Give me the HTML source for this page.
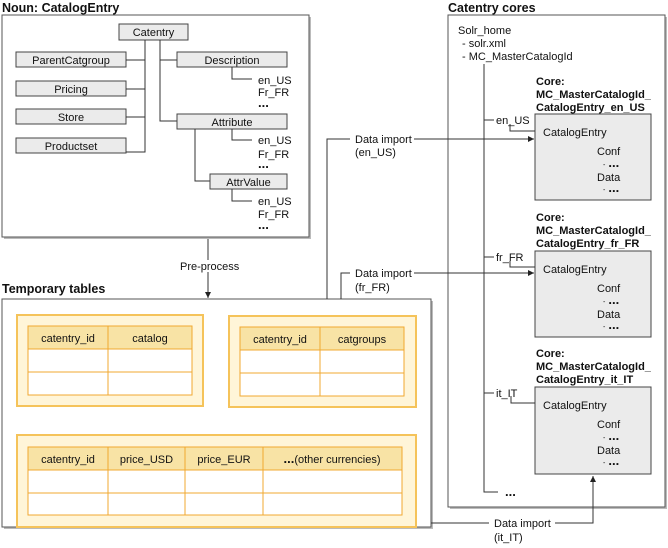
<!DOCTYPE html>
<html><head><meta charset="utf-8"><style>
html,body{margin:0;padding:0;background:#fff}
svg{display:block}
text{font-family:"Liberation Sans",Arial,sans-serif;font-size:11px;fill:#111}
.b{font-weight:bold}
.e{font-weight:bold;font-size:13px}
.t{font-weight:bold;font-size:12.5px}
.ln{stroke:#333;stroke-width:1;fill:none}
.bx{fill:#ebebeb;stroke:#444;stroke-width:1}
.pn{fill:#fff5d8;stroke:#f5c35a;stroke-width:2}
.th{fill:#f8e3a5;stroke:#f0a830;stroke-width:1}
.td{fill:#fff;stroke:#f0a830;stroke-width:1}
</style></head><body>
<svg width="668" height="548" viewBox="0 0 668 548" xmlns="http://www.w3.org/2000/svg">
<defs>
<marker id="ar" markerWidth="6" markerHeight="6" refX="6" refY="3" orient="auto"><path d="M0,0 L6,3 L0,6z" fill="#222"/></marker>
</defs>
<text x="2" y="12" class="t">Noun: CatalogEntry</text>
<rect x="4" y="17" width="307" height="222" fill="#bbb"/>
<rect x="2" y="15" width="307" height="222" fill="#fff" stroke="#555"/>
<g>
<rect x="119" y="24" width="69" height="16" class="bx"/><text x="153.5" y="36" text-anchor="middle">Catentry</text>
<rect x="16" y="52" width="110" height="15" class="bx"/><text x="71" y="64" text-anchor="middle">ParentCatgroup</text>
<rect x="16" y="81" width="110" height="15" class="bx"/><text x="71" y="93" text-anchor="middle">Pricing</text>
<rect x="16" y="109" width="110" height="15" class="bx"/><text x="71" y="121" text-anchor="middle">Store</text>
<rect x="16" y="138" width="110" height="15" class="bx"/><text x="71" y="150" text-anchor="middle">Productset</text>
<path class="ln" d="M145,40V152H126M126,60H145M126,89H145M126,117H145"/>
<path class="ln" d="M160,40V121H177M160,60H177"/>
<rect x="177" y="52" width="110" height="15" class="bx"/><text x="232" y="64" text-anchor="middle">Description</text>
<rect x="177" y="114" width="110" height="15" class="bx"/><text x="232" y="126" text-anchor="middle">Attribute</text>
<path class="ln" d="M195,129V181H210"/>
<rect x="210" y="174" width="77" height="15" class="bx"/><text x="248.5" y="186" text-anchor="middle">AttrValue</text>
<path class="ln" d="M232,67V79H252M232,129V140H252M232,189V201H252"/>
<text x="258" y="84">en_US</text><text x="258" y="96">Fr_FR</text><text x="258" y="107" class="e">...</text>
<text x="258" y="144">en_US</text><text x="258" y="158">Fr_FR</text><text x="258" y="168" class="e">...</text>
<text x="258" y="205">en_US</text><text x="258" y="218">Fr_FR</text><text x="258" y="229" class="e">...</text>
</g>
<path class="ln" d="M208,239V298" marker-end="url(#ar)"/>
<rect x="178" y="260" width="60" height="12" fill="#fff"/>
<text x="180" y="270">Pre-process</text>
<text x="2" y="293" class="t">Temporary tables</text>
<rect x="4" y="301" width="429" height="228" fill="#bbb"/>
<rect x="2" y="299" width="429" height="228" fill="#fff" stroke="#555"/>
<rect x="17" y="315" width="186" height="91" class="pn"/>
<rect x="28" y="326" width="80" height="23" class="th"/><rect x="108" y="326" width="84" height="23" class="th"/>
<rect x="28" y="349" width="80" height="23" class="td"/><rect x="108" y="349" width="84" height="23" class="td"/>
<rect x="28" y="372" width="80" height="23" class="td"/><rect x="108" y="372" width="84" height="23" class="td"/>
<text x="68" y="342" text-anchor="middle">catentry_id</text><text x="150" y="342" text-anchor="middle">catalog</text>
<rect x="229" y="316" width="187" height="91" class="pn"/>
<rect x="240" y="327" width="80" height="23" class="th"/><rect x="320" y="327" width="84" height="23" class="th"/>
<rect x="240" y="350" width="80" height="23" class="td"/><rect x="320" y="350" width="84" height="23" class="td"/>
<rect x="240" y="373" width="80" height="23" class="td"/><rect x="320" y="373" width="84" height="23" class="td"/>
<text x="280" y="343" text-anchor="middle">catentry_id</text><text x="362" y="343" text-anchor="middle">catgroups</text>
<rect x="17" y="435" width="399" height="92" class="pn"/>
<g>
<rect x="28" y="447" width="80" height="23" class="th"/><rect x="108" y="447" width="77" height="23" class="th"/><rect x="185" y="447" width="78" height="23" class="th"/><rect x="263" y="447" width="139" height="23" class="th"/>
<rect x="28" y="470" width="80" height="23" class="td"/><rect x="108" y="470" width="77" height="23" class="td"/><rect x="185" y="470" width="78" height="23" class="td"/><rect x="263" y="470" width="139" height="23" class="td"/>
<rect x="28" y="493" width="80" height="22" class="td"/><rect x="108" y="493" width="77" height="22" class="td"/><rect x="185" y="493" width="78" height="22" class="td"/><rect x="263" y="493" width="139" height="22" class="td"/>
<text x="68" y="463" text-anchor="middle">catentry_id</text><text x="146.5" y="463" text-anchor="middle">price_USD</text><text x="224" y="463" text-anchor="middle">price_EUR</text><text x="332" y="463" text-anchor="middle"><tspan class="e">...</tspan>(other currencies)</text>
</g>
<text x="448" y="12" class="t">Catentry cores</text>
<rect x="450" y="17" width="217" height="492" fill="#bbb"/>
<rect x="448" y="15" width="217" height="492" fill="#fff" stroke="#555"/>
<text x="458" y="34">Solr_home</text>
<text x="462" y="47">- solr.xml</text>
<text x="462" y="60">- MC_MasterCatalogId</text>
<path class="ln" d="M484,64V492H498"/>
<text x="505" y="496" class="e">...</text>
<text x="536" y="85" class="b">Core:</text><text x="536" y="98" class="b">MC_MasterCatalogId_</text><text x="536" y="111" class="b">CatalogEntry_en_US</text>
<rect x="535" y="114" width="116" height="86" class="bx"/>
<text x="543" y="136">CatalogEntry</text><text x="597" y="155">Conf</text><text x="603" y="167"><tspan font-size="7">-</tspan> <tspan class="e">...</tspan></text><text x="597" y="181">Data</text><text x="603" y="192"><tspan font-size="7">-</tspan> <tspan class="e">...</tspan></text>
<path class="ln" d="M484,120H494M510,124V131H535"/><text x="496" y="124">en_US</text>
<text x="536" y="221" class="b">Core:</text><text x="536" y="234" class="b">MC_MasterCatalogId_</text><text x="536" y="247" class="b">CatalogEntry_fr_FR</text>
<rect x="535" y="251" width="116" height="86" class="bx"/>
<text x="543" y="273">CatalogEntry</text><text x="597" y="292">Conf</text><text x="603" y="304"><tspan font-size="7">-</tspan> <tspan class="e">...</tspan></text><text x="597" y="318">Data</text><text x="603" y="329"><tspan font-size="7">-</tspan> <tspan class="e">...</tspan></text>
<path class="ln" d="M484,257H494M510,261V267H535"/><text x="496" y="261">fr_FR</text>
<text x="536" y="357" class="b">Core:</text><text x="536" y="370" class="b">MC_MasterCatalogId_</text><text x="536" y="383" class="b">CatalogEntry_it_IT</text>
<rect x="535" y="387" width="116" height="87" class="bx"/>
<text x="543" y="409">CatalogEntry</text><text x="597" y="428">Conf</text><text x="603" y="440"><tspan font-size="7">-</tspan> <tspan class="e">...</tspan></text><text x="597" y="454">Data</text><text x="603" y="465"><tspan font-size="7">-</tspan> <tspan class="e">...</tspan></text>
<path class="ln" d="M484,393H494M511,396V403H535"/><text x="496" y="397">it_IT</text>
<path class="ln" d="M327,299V139H350M414,139H534" marker-end="url(#ar)"/>
<text x="355" y="143">Data import</text><text x="355" y="156">(en_US)</text>
<path class="ln" d="M341,299V273H350M414,273H534" marker-end="url(#ar)"/>
<text x="355" y="277">Data import</text><text x="355" y="291">(fr_FR)</text>
<path class="ln" d="M431,523H489M555,523H593V476" marker-end="url(#ar)"/>
<text x="494" y="527">Data import</text><text x="494" y="541">(it_IT)</text>
</svg>
</body></html>
